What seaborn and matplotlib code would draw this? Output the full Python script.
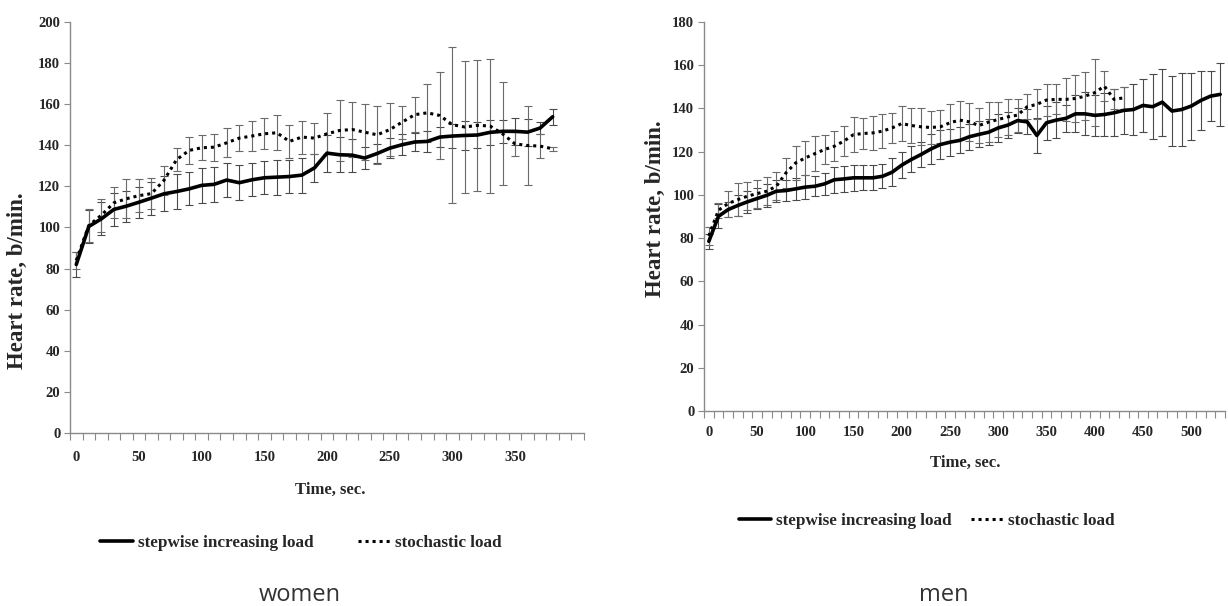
import matplotlib
matplotlib.use("Agg")
import matplotlib.pyplot as plt
import seaborn as sns
import numpy as np
import pandas as pd

# ---- data (heart rate, b/min, mean and SD) ----
women_t = list(range(0, 390, 10))
women_step = [82, 100.5, 104.2, 108.8, 110.4, 112.3, 114.3, 116.4, 117.5, 118.8,
              120.5, 121, 123.1, 121.8, 123.2, 124.2, 124.5, 124.8, 125.5, 129,
              136.2, 135.4, 135.2, 133.8, 136, 138.6, 140.3, 141.6, 141.9, 144,
              144.5, 144.8, 145, 146.3, 146.8, 146.8, 146.4, 148.4, 153.9]
women_step_sd = [6, 8, 8, 8, 7.5, 7.5, 8, 8.5, 8.5, 8,
                 8.5, 8.5, 8.5, 8.5, 8, 8, 8.5, 8, 8.5, 7,
                 9, 8.5, 8, 5.5, 4.5, 5, 5, 4.5, 5, 5,
                 6, 7, 6.3, 6, 5.7, 6.5, 6.5, 3, 4]
women_stoch = [84, 101, 106, 112, 114, 115.5, 116.5, 123, 133, 137.5,
               138.8, 139.1, 141.2, 143.5, 144.5, 145.6, 146.1, 141.9, 144, 143.5,
               145.6, 147.2, 147.7, 146.4, 145.1, 147.6, 151.3, 154.9, 155.8, 154.5,
               150, 148.9, 149.7, 149.4, 145.6, 140.7, 139.9, 139.6, 138.3]
women_stoch_sd = [4, 8, 8, 7.5, 9.5, 8, 7.7, 7, 5.5, 6.5,
                  6, 6.5, 7, 6.5, 7.5, 7.6, 8.5, 8, 8, 7.5,
                  10, 15, 13.3, 13.6, 14, 13, 8, 8.6, 14, 21,
                  38, 32, 32, 32.5, 25, 6, 19, 6, 1]

men_step_t = list(range(0, 540, 10))
men_step = [78.5, 90.1, 93.2, 95.1, 96.8, 98.3, 99.8, 101.7, 102, 102.8,
            103.6, 104, 105.1, 107, 107.4, 107.9, 107.9, 107.9, 108.6, 110.5,
            113.8, 116.4, 118.7, 121.2, 123.3, 124.4, 125.2, 126.9, 128, 129,
            131, 132.3, 134.4, 133.8, 127.5, 133.4, 134.6, 135.4, 137.5, 137.5,
            136.8, 137.2, 138, 139.1, 139.5, 141.4, 140.8, 142.9, 138.8, 139.5,
            141.1, 143.7, 145.7, 146.5]
men_step_sd = [3.5, 5.5, 3.5, 5, 5, 5, 5.4, 5, 5, 5,
               5.5, 4.6, 5, 6, 6, 6, 5.7, 5.7, 5.6, 6.5,
               6, 6, 6, 7, 6.6, 6.2, 6, 6, 6, 6,
               6.4, 6, 5.7, 5.8, 8, 7.8, 8.2, 6.2, 8.5, 10,
               9.6, 10, 10.8, 10.8, 12, 12.1, 15, 15.5, 16, 16.7,
               15.5, 13.7, 11.5, 14.6]
men_stoch_t = list(range(0, 440, 10))
men_stoch = [81, 92.9, 96, 97.8, 99.4, 100.6, 101.7, 104, 110.2, 114.8,
             117.1, 119.1, 121, 122.5, 124.9, 127.9, 128.4, 128.7, 129.5, 131,
             133, 132.1, 131.5, 131.2, 131.5, 133.4, 134.6, 133.8, 132.1, 133.7,
             134.9, 136.1, 136.9, 140.8, 141.9, 143.9, 144.2, 144.2, 144.6, 145.7,
             147.3, 150.3, 144.2, 144.9]
men_stoch_sd = [4, 3.5, 6, 7.5, 6.6, 6.5, 6.6, 6.5, 7, 7.7,
                8, 8, 6.5, 7, 7, 8, 7.3, 8, 7.7, 7,
                8, 8, 8.5, 7.8, 7.7, 8.5, 9, 8.8, 8, 9.4,
                8.2, 8.5, 7.7, 5.7, 7, 7.2, 7, 10, 11, 11,
                15.4, 7, 4.6, 5]

series_names = ["stepwise increasing load", "stochastic load"]
panel_names = ["women", "men"]

sns.set_theme(style="white")
plt.rcParams["font.family"] = ["Liberation Serif", "DejaVu Serif"]
plt.rcParams["font.weight"] = "bold"

W, H = 1228, 606
fig = plt.figure(figsize=(W / 100, H / 100), dpi=100)


def px(x, y):
    return x / W, 1 - y / H


ax1 = fig.add_axes([70 / W, 1 - 433 / H, 514 / W, 411 / H])
ax2 = fig.add_axes([704 / W, 1 - 411 / H, 521 / W, 389 / H])

GREY = "#8a8a8a"


def draw(ax, t1, y1, e1, t2, y2, e2, ncat, ymax, xpad):
    ax.errorbar(t1, y1, yerr=e1, fmt="none", ecolor="#4a4a4a", elinewidth=0.8,
                capsize=3, capthick=0.8, zorder=1)
    ax.errorbar(t2, y2, yerr=e2, fmt="none", ecolor="#6a6a6a", elinewidth=0.8,
                capsize=3, capthick=0.8, zorder=1)
    sns.lineplot(x=t1, y=y1, ax=ax, color="black", linewidth=2.6,
                 label=series_names[0], zorder=3)
    sns.lineplot(x=t2, y=y2, ax=ax, color="black", linewidth=2.2,
                 linestyle=(0, (1, 1.3)), label=series_names[1], zorder=3)
    ax.set_xlim(-5, ncat * 10 - 5)
    ax.set_ylim(0, ymax)
    ax.set_yticks(np.arange(0, ymax + 1, 20))
    bounds = np.arange(-5, ncat * 10 - 4, 10)
    ax.set_xticks(bounds)
    ax.set_xticklabels([])
    labs = [v for v in range(0, ncat * 10 - 10, 50)]
    ax.set_xticks(labs, [str(v) for v in labs], minor=True)
    ax.tick_params(axis="x", which="major", direction="out", length=5,
                   width=0.8, color=GREY, bottom=True)
    ax.tick_params(axis="x", which="minor", length=0, pad=xpad, labelsize=10.5)
    ax.tick_params(axis="y", direction="out", length=4, width=0.8,
                   color=GREY, left=True, labelsize=10.5, pad=3)
    for lab in ax.get_xticklabels(minor=True) + ax.get_yticklabels():
        lab.set_fontweight("bold")
    sns.despine(ax=ax)
    for s in ("left", "bottom"):
        ax.spines[s].set_color(GREY)
        ax.spines[s].set_linewidth(1.0)
    ax.set_xlabel("")
    ax.set_ylabel("")
    ax.grid(False)


draw(ax1, women_t, women_step, women_step_sd, women_t, women_stoch,
     women_stoch_sd, 41, 200, 13)
draw(ax2, men_step_t, men_step, men_step_sd, men_stoch_t, men_stoch,
     men_stoch_sd, 54, 180, 10.5)

# axis titles
fig.text(*px(17, 281), "Heart rate, b/min.", rotation=90, ha="center",
         va="center", fontsize=16.5, fontweight="bold")
fig.text(*px(655, 209), "Heart rate, b/min.", rotation=90, ha="center",
         va="center", fontsize=16.5, fontweight="bold")
fig.text(*px(330, 490), "Time, sec.", ha="center", va="center",
         fontsize=12, fontweight="bold")
fig.text(*px(965, 463), "Time, sec.", ha="center", va="center",
         fontsize=12, fontweight="bold")

# legends below each panel
for ax, (lx, ly), gap in ((ax1, (301, 543), 2.6), (ax2, (927, 521), 1.1)):
    h, l = ax.get_legend_handles_labels()
    ax.legend(h, l, ncol=2, frameon=False, loc="center",
              bbox_to_anchor=px(lx, ly), bbox_transform=fig.transFigure,
              handlelength=1.9, handletextpad=0.3, columnspacing=gap,
              prop={"family": "Liberation Serif", "weight": "bold",
                    "size": 12.3})

# panel captions
fig.text(*px(300, 595), panel_names[0], ha="center", va="center",
         fontsize=17, color="#333333", family=["Open Sans", "DejaVu Sans"],
         fontweight="normal")
fig.text(*px(944, 595), panel_names[1], ha="center", va="center",
         fontsize=17, color="#333333", family=["Open Sans", "DejaVu Sans"],
         fontweight="normal")

fig.savefig("out.png", dpi=100)
